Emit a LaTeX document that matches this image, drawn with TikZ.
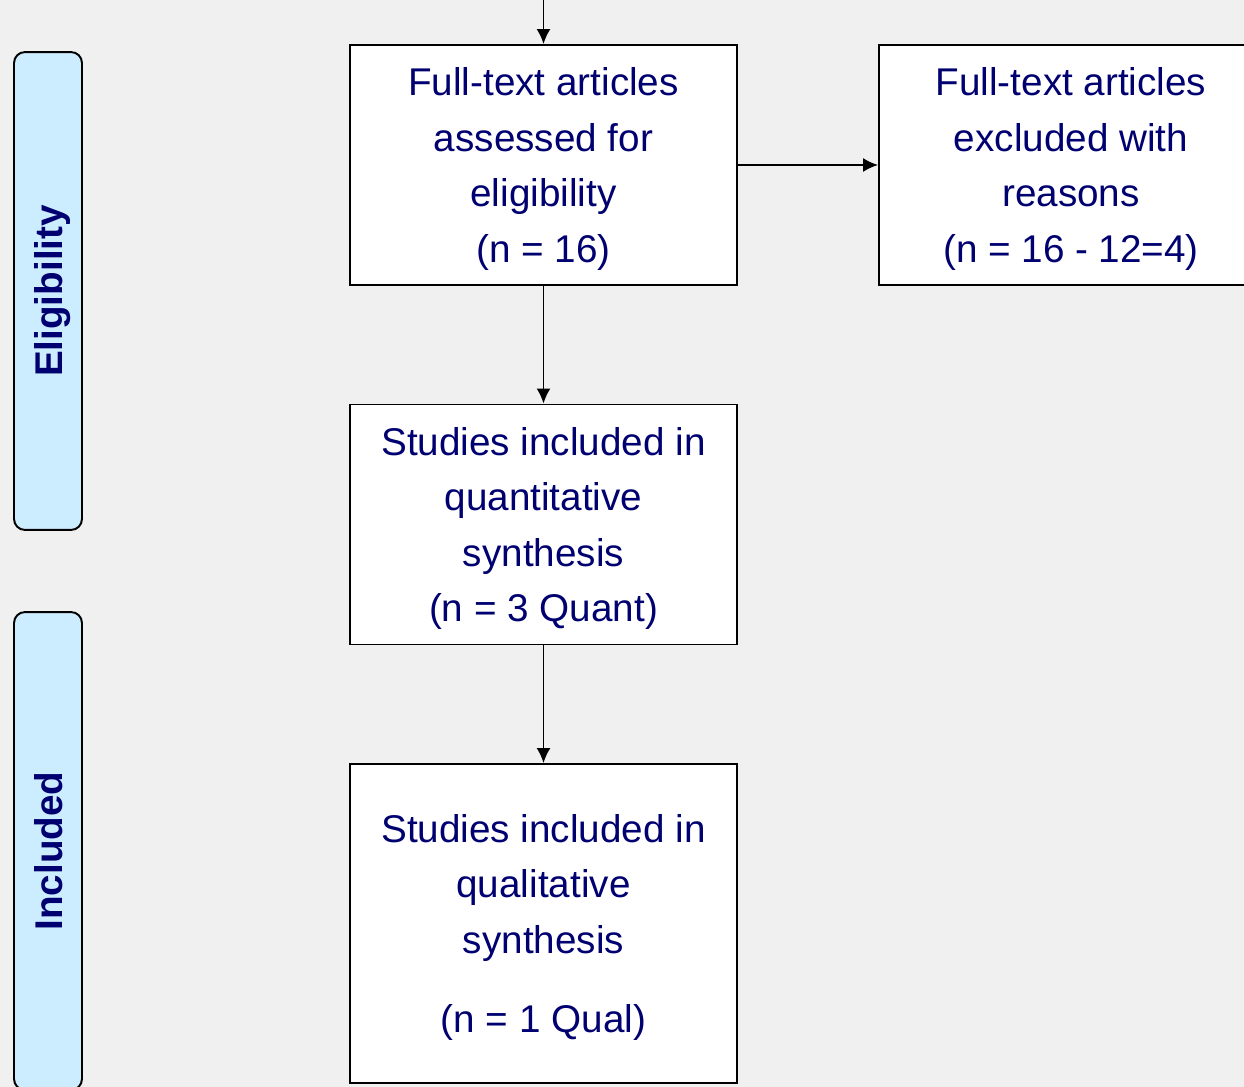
\documentclass[tikz,border=0pt]{standalone}
\usepackage{fontspec}
\setmainfont{Liberation Sans}
\usetikzlibrary{arrows.meta,positioning}
\definecolor{navy}{HTML}{000070}
\definecolor{sideblue}{HTML}{CCECFF}
\definecolor{bggray}{HTML}{F0F0F0}

\begin{document}
\begin{tikzpicture}[x=0.02cm, y=-0.02cm,
	arr/.style={-{Latex[length=0.3cm,width=0.28cm]}, line width=1.1pt},
	box/.style={draw, line width=1.1pt, fill=white, text=navy, align=center, minimum width=7.74cm, minimum height=4.8cm, text depth=-4pt, font=\fontsize{22}{31.5}\selectfont},
	side/.style={draw, line width=1.1pt, rounded corners=0.22cm, fill=sideblue, text=navy, minimum width=9.56cm, minimum height=1.36cm, text height=20.6pt, text depth=4.6pt, rotate=90, font=\bfseries\fontsize{22}{25}\selectfont}]
	\fill[bggray] (0, 0) rectangle (1244, 1087);
	\useasboundingbox (0, 0) rectangle (1244, 1087);

	\node[side] (elig) at (48, 291) {Eligibility};
	\node[side] (incl) at (48, 851) {Included};

	\node[box] (assessed) at (543.5, 165) {Full-text articles\\assessed for\\eligibility\\(n = 16)};
	\node[box, minimum width=7.68cm] (excluded) at (1071, 165) {Full-text articles\\excluded with\\reasons\\(n = 16 - 12=4)};
	\node[box] (quant) at (543.5, 524.5) {Studies included in\\quantitative\\synthesis\\(n = 3 Quant)};
	\node[box, minimum height=6.38cm] (qual) at (543.5, 923.5) {Studies included in\\qualitative\\synthesis\\[0.48cm](n = 1 Qual)};

	\coordinate (top) at (543.5, 0);
	\draw[arr] (top) -- (assessed);
	\draw[arr] (assessed) -- (excluded);
	\draw[arr] (assessed) -- (quant);
	\draw[arr] (quant) -- (qual);
\end{tikzpicture}
\end{document}
